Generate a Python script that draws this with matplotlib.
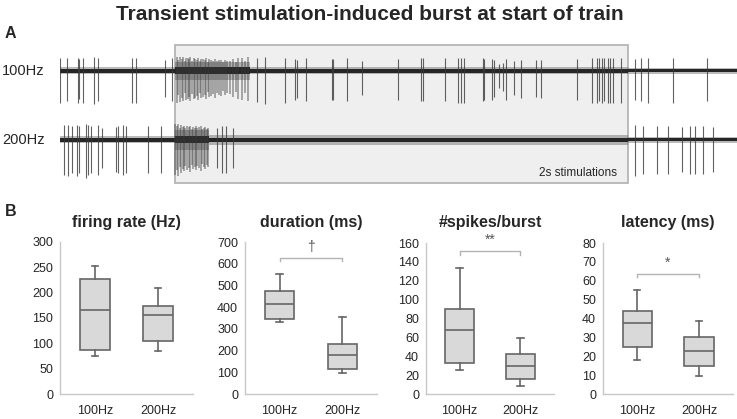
import matplotlib
matplotlib.use("Agg")
import matplotlib.pyplot as plt
from matplotlib.patches import Rectangle
import numpy as np

# ---------------- data: panel A (spike times in s relative to stim onset, amplitudes a.u.) ----
stim_duration = 2.0
trace_labels = ["100Hz", "200Hz"]

spk100_t = [-0.508, -0.477, -0.428, -0.424, -0.406, -0.358, -0.340, -0.190, -0.172, -0.044, -0.013,
            0.362, 0.397, 0.486, 0.530, 0.539, 0.578, 0.693, 0.698, 0.759, 0.826, 0.985, 1.086,
            1.095, 1.192, 1.249, 1.263, 1.276, 1.360, 1.364, 1.400, 1.408, 1.430, 1.448, 1.461,
            1.497, 1.528, 1.594, 1.616, 1.775, 1.841, 1.863, 1.872, 1.885, 1.894, 1.912, 1.921,
            1.934, 1.969, 2.031, 2.057, 2.088, 2.199, 2.349]
spk100_a = [32, 30, 32, 28, 32, 33, 30, 32, 32, 26, 30,
            31, 33, 32, 29, 27, 30, 29, 29, 30, 24, 29, 30,
            30, 30, 32, 32, 32, 30, 29, 29, 26, 17, 20, 29,
            24, 27, 26, 27, 29, 32, 32, 30, 32, 30, 32, 32,
            32, 32, 29, 30, 32, 32, 30]
burst100_t = [0.009, 0.015, 0.022, 0.029, 0.035, 0.042, 0.049, 0.055, 0.062, 0.068, 0.075, 0.082,
              0.088, 0.095, 0.102, 0.108, 0.115, 0.124, 0.130, 0.137, 0.146, 0.152, 0.159, 0.168,
              0.177, 0.185, 0.194, 0.203, 0.212, 0.221, 0.230, 0.243, 0.256, 0.269, 0.278, 0.296,
              0.309, 0.322]
burst100_a = [32, 24, 31, 27, 30, 22, 29, 28, 26, 30, 23, 28, 27, 25, 29, 22, 27, 26, 24, 28, 21,
              26, 25, 23, 27, 22, 24, 25, 20, 24, 22, 23, 26, 21, 28, 29, 22, 30]

spk200_t = [-0.490, -0.472, -0.455, -0.433, -0.424, -0.393, -0.384, -0.371, -0.340, -0.322,
            -0.260, -0.252, -0.230, -0.216, -0.119, -0.062, 0.185, 0.208, 0.225, 0.256,
            2.031, 2.066, 2.128, 2.177, 2.238, 2.274, 2.296, 2.331, 2.375]
spk200_a = [35, 36, 33, 36, 33, 38, 35, 33, 35, 28, 32, 33, 35, 33, 33, 33, 28, 33, 33, 28,
            36, 34, 34, 34, 32, 34, 34, 34, 32]
burst200_t = [0.000, 0.007, 0.013, 0.020, 0.026, 0.033, 0.040, 0.046, 0.053, 0.060, 0.066, 0.073,
              0.079, 0.086, 0.093, 0.099, 0.106, 0.113, 0.119, 0.126, 0.132, 0.139, 0.146]
burst200_a = [35, 30, 36, 27, 33, 29, 31, 26, 30, 28, 32, 25, 29, 27, 30, 26, 28, 31, 24, 27, 29,
              25, 27]

# baseline noise envelope (half-widths, a.u.) per segment
noise100_t = [-0.51, 0.0, 0.33, 2.0, 2.49]
noise100_core = [1.6, 3.5, 1.6, 1.5, 1.5]
noise100_fuzz = [3.5, 9.0, 3.5, 3.2, 3.2]
noise200_t = [-0.51, 0.0, 0.15, 2.0, 2.49]
noise200_core = [1.6, 3.5, 2.2, 1.5, 1.5]
noise200_fuzz = [3.5, 10.0, 4.8, 3.2, 3.2]

# ---------------- data: panel B box plots -------------------------------------------------
groups = ["100Hz", "200Hz"]
titles = ["firing rate (Hz)", "duration (ms)", "#spikes/burst", "latency (ms)"]
# [whislo, q1, med, q3, whishi]
firing_100 = [75, 87, 165, 227, 252]
firing_200 = [84, 104, 156, 174, 209]
duration_100 = [331, 344, 414, 474, 552]
duration_200 = [96, 117, 179, 229, 355]
spikes_100 = [25, 33, 67.5, 90, 134]
spikes_200 = [9, 16, 30, 42, 59]
latency_100 = [17.8, 24.7, 37.4, 44, 55]
latency_200 = [9.4, 14.7, 22.6, 30.4, 38.6]
ymax = [300, 700, 160, 80]
ystep = [50, 100, 20, 10]
sig_marks = [None, "\u2020", "**", "*"]
sig_level = [None, 625, 151, 63.5]

# ---------------- figure ----------------------------------------------------------------------
W, H = 737, 419
fig = plt.figure(figsize=(W / 100, H / 100), dpi=100)
plt.rcParams['font.family'] = ['Liberation Sans', 'DejaVu Sans']

def rect(l, t, r, b):
    return [l / W, 1 - b / H, (r - l) / W, (b - t) / H]

TXT = '#262626'
fig.text(370 / W, 1 - 14 / H, "Transient stimulation-induced burst at start of train",
         ha='center', va='center', fontsize=15, fontweight='bold', color=TXT)
fig.text(5 / W, 1 - 34 / H, "A", ha='left', va='center', fontsize=11.5, fontweight='bold', color=TXT)
fig.text(5 / W, 1 - 212 / H, "B", ha='left', va='center', fontsize=11.5, fontweight='bold', color=TXT)

# ---------------- panel A -------------------------------------------------------------------
axA = fig.add_axes(rect(60, 40, 737, 190))
axA.set_xlim(-0.508, 2.481)
axA.set_ylim(-119, 31)
axA.axis('off')
axA.add_patch(Rectangle((0, -112), stim_duration, 138, facecolor='#efefef',
                        edgecolor='#b5b5b5', lw=1.3, zorder=0))
axA.text(1.95, -102, "2s stimulations", ha='right', va='center', fontsize=8.5, color=TXT)

offsets = [0, -69]
traces = [
    (noise100_t, noise100_core, noise100_fuzz, spk100_t, spk100_a, burst100_t, burst100_a),
    (noise200_t, noise200_core, noise200_fuzz, spk200_t, spk200_a, burst200_t, burst200_a),
]
for off, lab, (nt, nc, nf, st, sa, bt, ba) in zip(offsets, trace_labels, traces):
    nt = np.array(nt); nc = np.array(nc); nf = np.array(nf)
    axA.fill_between(nt, off - nf, off + nf, step='post', color='#555555', alpha=0.4, lw=0, zorder=2)
    axA.fill_between(nt, off - nc, off + nc, step='post', color='#262626', lw=0, zorder=3)
    bt = np.array(bt); ba = np.array(ba)
    axA.vlines(bt, off - ba, off + 0.45 * ba, color='#3a3a3a', alpha=0.45, lw=1.3, zorder=4)
    st = np.array(st); sa = np.array(sa)
    axA.vlines(st, off - sa, off + 0.42 * sa, color='#3a3a3a', alpha=0.8, lw=0.8, zorder=4)
    fig.text(2 / W, 1 - (71 - off) / H, lab, ha='left', va='center', fontsize=10.5, color=TXT)

# ---------------- panel B -------------------------------------------------------------------
positions = [(60, 242, 193, 394), (245, 242, 377, 394), (426, 243, 554, 394), (603, 243, 733, 394)]
data = [(firing_100, firing_200), (duration_100, duration_200),
        (spikes_100, spikes_200), (latency_100, latency_200)]
EDGE = '#666666'
for i, (pos, (a, b)) in enumerate(zip(positions, data)):
    ax = fig.add_axes(rect(*pos))
    stats = []
    for lab, v in zip(groups, (a, b)):
        stats.append(dict(label=lab, whislo=v[0], q1=v[1], med=v[2], q3=v[3], whishi=v[4], fliers=[]))
    ax.bxp(stats, positions=[1, 2], widths=0.47, patch_artist=True, showfliers=False,
           boxprops=dict(facecolor='#d9d9d9', edgecolor=EDGE, lw=1.2),
           medianprops=dict(color=EDGE, lw=1.2),
           whiskerprops=dict(color=EDGE, lw=1.2),
           capprops=dict(color=EDGE, lw=1.2), capwidths=0.1)
    ax.set_xlim(0.45, 2.55)
    ax.set_ylim(0, ymax[i])
    ax.set_yticks(np.arange(0, ymax[i] + 1, ystep[i]))
    ax.set_xticks([1, 2])
    ax.set_xticklabels(groups)
    for s in ['top', 'right']:
        ax.spines[s].set_visible(False)
    for s in ['left', 'bottom']:
        ax.spines[s].set_color('#c8c8c8')
        ax.spines[s].set_linewidth(1.0)
    ax.tick_params(length=0, colors=TXT)
    ax.tick_params(axis='y', labelsize=9, pad=5)
    ax.tick_params(axis='x', labelsize=9, pad=8)
    ax.patch.set_alpha(0)
    cx = (pos[0] + pos[2]) / 2
    fig.text(cx / W, 1 - 222 / H, titles[i], ha='center', va='center', fontsize=11.5,
             fontweight='bold', color=TXT)
    if sig_marks[i]:
        y = sig_level[i]
        d = ymax[i] * 0.02
        ax.plot([1, 1, 2, 2], [y - d, y, y, y - d], color='#b3b3b3', lw=1.0, clip_on=False)
        ax.text(1.5, y + ymax[i] * 0.03, sig_marks[i], ha='center', va='bottom',
                fontsize=10, color='#555555')

fig.savefig("out.png", dpi=100)
